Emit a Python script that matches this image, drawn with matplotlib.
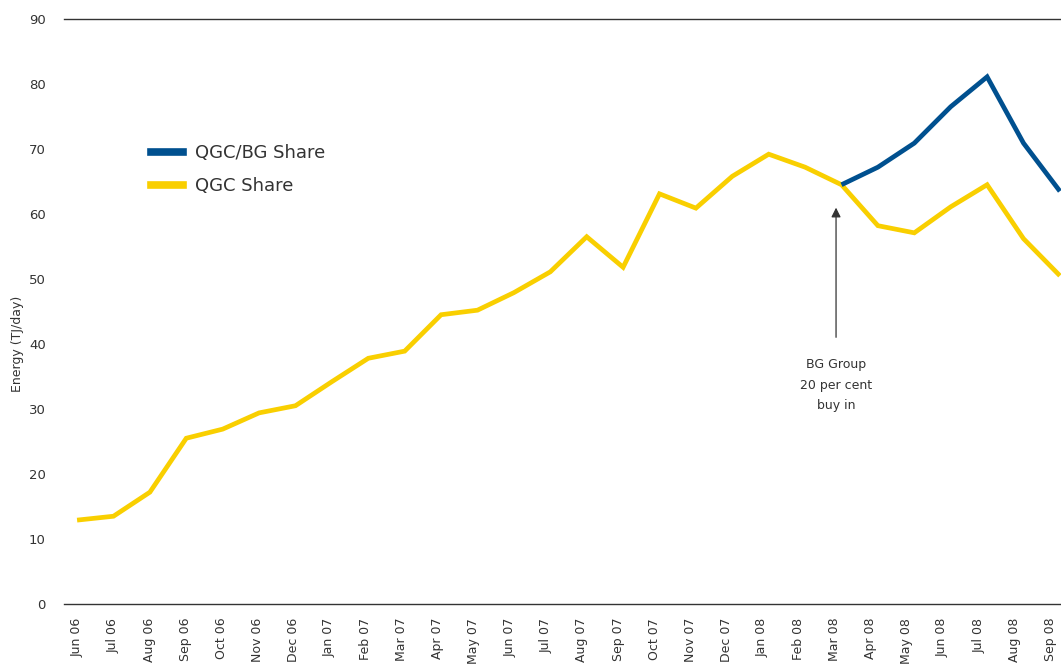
import matplotlib.pyplot as plt
from matplotlib.lines import Line2D

months = ['Jun 06', 'Jul 06', 'Aug 06', 'Sep 06', 'Oct 06', 'Nov 06', 'Dec 06',
          'Jan 07', 'Feb 07', 'Mar 07', 'Apr 07', 'May 07', 'Jun 07', 'Jul 07',
          'Aug 07', 'Sep 07', 'Oct 07', 'Nov 07', 'Dec 07', 'Jan 08', 'Feb 08',
          'Mar 08', 'Apr 08', 'May 08', 'Jun 08', 'Jul 08', 'Aug 08', 'Sep 08']

# QGC share, whole period
qgc = [12.9, 13.5, 17.2, 25.5, 26.9, 29.4, 30.5, 34.2, 37.8, 38.9, 44.5, 45.2,
       47.9, 51.1, 56.5, 51.8, 63.1, 60.9, 65.8, 69.2, 67.2, 64.5, 58.2, 57.1,
       61.1, 64.5, 56.2, 50.5]

# QGC/BG share, from Mar 08 on
qgc_bg_months = months[21:]
qgc_bg = [64.5, 67.2, 70.9, 76.5, 81.1, 70.9, 63.5]

blue = '#00508f'
yellow = '#f9cf00'
dark = '#333333'

fig = plt.figure(figsize=(10.61, 6.64), dpi=100)
ax = fig.add_axes([0.0603, 0.0904, 0.9397, 0.881])

x = list(range(len(months)))
xb = [months.index(m) for m in qgc_bg_months]

ax.plot(x, qgc, color=yellow, lw=3.4, solid_joinstyle='miter', solid_capstyle='butt', zorder=3)
ax.plot(xb, qgc_bg, color=blue, lw=3.4, solid_joinstyle='miter', solid_capstyle='butt', zorder=3)

ax.set_xlim(-0.36, 27.03)
ax.set_ylim(0, 90)
ax.set_yticks(range(0, 91, 10))
# month labels in the original sit slightly tighter than the data points
ax.set_xticks([i * 26.75 / 27 for i in x])
ax.set_xticklabels(months, rotation=90, fontsize=9, color=dark)
ax.tick_params(axis='y', length=0, pad=13, labelsize=9.5, labelcolor=dark)
ax.tick_params(axis='x', length=0, pad=10)

for s in ['left', 'right']:
    ax.spines[s].set_visible(False)
for s in ['top', 'bottom']:
    ax.spines[s].set_color(dark)
    ax.spines[s].set_linewidth(1.0)

ax.set_ylabel('Energy (TJ/day)', fontsize=9, color=dark)
ax.yaxis.set_label_coords(-0.04, 0.445)

# annotation for BG buy in
ax.annotate('', xy=(20.85, 61.4), xytext=(20.85, 40.6),
            arrowprops=dict(arrowstyle='-|>', color=dark, lw=0.9, mutation_scale=14))
ax.text(20.85, 37.8, 'BG Group\n20 per cent\nbuy in', ha='center', va='top',
        fontsize=9, color=dark, linespacing=1.75)

handles = [Line2D([], [], color=blue, lw=5.5), Line2D([], [], color=yellow, lw=5.5)]
ax.legend(handles, ['QGC/BG Share', 'QGC Share'], loc='upper left',
          bbox_to_anchor=(0.071, 0.814), frameon=False, fontsize=13,
          handlelength=1.75, handletextpad=0.7, labelspacing=0.85,
          labelcolor=dark)

fig.savefig('out.png', dpi=100)
